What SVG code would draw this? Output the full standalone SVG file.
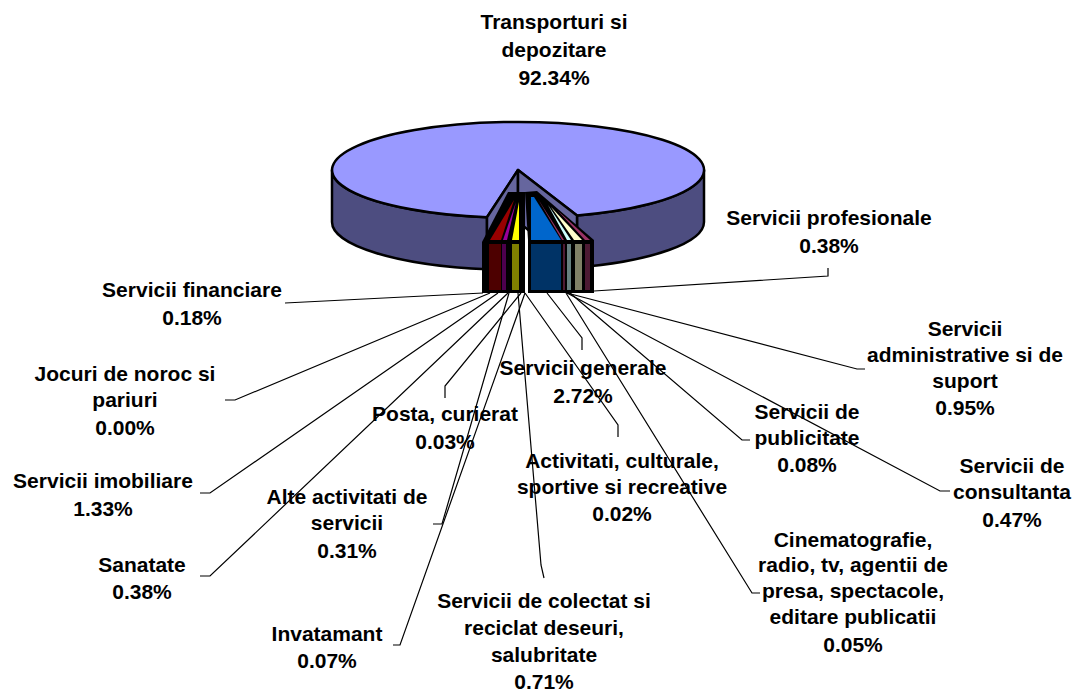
<svg xmlns="http://www.w3.org/2000/svg" width="1072" height="691" viewBox="0 0 1072 691">
<style>
.t{font-family:"Liberation Sans",Arial,sans-serif;font-weight:bold;font-size:21px;fill:#000;text-anchor:middle}
.ld{fill:none;stroke:#000;stroke-width:1.2}
.pe{stroke:#000;stroke-width:2.5;stroke-linejoin:round}
.sl{stroke:none}
</style>
<rect width="1072" height="691" fill="#fff"/>
<g id="pie">
<path class="pe" fill="#4D4D80" d="M332,170 A186,48 0 0,0 487,217.3 L487,269.3 A186,48 0 0,1 332,222 Z"/>
<path class="pe" fill="#4D4D80" d="M577,215.5 A186,48 0 0,0 704,170 L704,222 A186,48 0 0,1 577,267.5 Z"/>
<path class="pe" fill="#9999FF" d="M518,170 L487,217.3 A186,48 0 1,1 577,215.5 Z"/>
<polygon class="pe" fill="#66669E" points="518,170 487,217.3 487,269.3 518,222"/>
<polygon class="pe" fill="#66669E" points="518,170 577,215.5 577,267.5 518,222"/>
</g>
<g id="slices-left">
<polygon fill="#000" points="508,192 525,192 525,293 482,293 482,242"/>
<polygon class="sl" fill="#990000" points="514,200 490,240 501,240"/>
<rect class="sl" fill="#4D0000" x="489" y="244" width="12" height="46"/>
<polygon class="sl" fill="#990099" points="516,202 503,240 507,240"/>
<rect class="sl" fill="#4D004D" x="502" y="244" width="4" height="46"/>
<polygon class="sl" fill="#FFFF00" points="519,202 512,240 519,240"/>
<rect class="sl" fill="#808000" x="512" y="244" width="7" height="46"/>
</g>
<g id="slices-right">
<polygon fill="#000" points="525,192 537,191 594,240 594,293 528,293 528,240"/>
<polygon class="sl" fill="#0066CC" points="531,197 534,197 561,240 531,240"/>
<rect class="sl" fill="#003366" x="531" y="244" width="30" height="46"/>
<polygon class="sl" fill="#993366" points="538,199 562,240 564,240"/>
<rect class="sl" fill="#4D1A33" x="563" y="244" width="2" height="46"/>
<polygon class="sl" fill="#CCFFFF" points="548,205 567,240 571,240"/>
<rect class="sl" fill="#668080" x="567" y="244" width="4" height="46"/>
<polygon class="sl" fill="#FFFFCC" points="551,207 574,240 582,240"/>
<rect class="sl" fill="#808066" x="575" y="244" width="7" height="46"/>
<polygon class="sl" fill="#993366" points="557,210 585,240 590,240"/>
<rect class="sl" fill="#4D1A33" x="585" y="244" width="5" height="46"/>
</g>
<g id="connectors">
<polyline class="ld" points="594,291 828,276 828,268"/>
<polyline class="ld" points="567,293 857,369 865,369"/>
<polyline class="ld" points="567,293 940,491 950,491"/>
<polyline class="ld" points="570,293 742,440 750,440"/>
<polyline class="ld" points="566,293 752,593 760,593"/>
<polyline class="ld" points="525,293 618,425 618,437"/>
<polyline class="ld" points="547,293 582,338 582,350"/>
<polyline class="ld" points="518,293 541,565 544,578"/>
<polyline class="ld" points="483,293 285,303"/>
<polyline class="ld" points="490,293 235,400 225,400"/>
<polyline class="ld" points="498,293 210,493 200,493"/>
<polyline class="ld" points="508,293 210,576 200,576"/>
<polyline class="ld" points="521,293 445,386 445,398"/>
<polyline class="ld" points="509,293 442,524 433,524"/>
<polyline class="ld" points="525,293 400,645 393,645"/>
</g>
<g id="labels">
<text class="t" x="554" y="29">Transporturi si</text>
<text class="t" x="554" y="57">depozitare</text>
<text class="t" x="554" y="85">92.34%</text>
<text class="t" x="829" y="225">Servicii profesionale</text>
<text class="t" x="829" y="253">0.38%</text>
<text class="t" x="192" y="297">Servicii financiare</text>
<text class="t" x="192" y="325">0.18%</text>
<text class="t" x="965" y="336">Servicii</text>
<text class="t" x="965" y="362">administrative si de</text>
<text class="t" x="965" y="388">suport</text>
<text class="t" x="965" y="415">0.95%</text>
<text class="t" x="125" y="381">Jocuri de noroc si</text>
<text class="t" x="125" y="407">pariuri</text>
<text class="t" x="125" y="435">0.00%</text>
<text class="t" x="583" y="375">Servicii generale</text>
<text class="t" x="583" y="403">2.72%</text>
<text class="t" x="445" y="421">Posta, curierat</text>
<text class="t" x="445" y="449">0.03%</text>
<text class="t" x="807" y="419">Servicii de</text>
<text class="t" x="807" y="445">publicitate</text>
<text class="t" x="807" y="472">0.08%</text>
<text class="t" x="622" y="468">Activitati, culturale,</text>
<text class="t" x="622" y="494">sportive si recreative</text>
<text class="t" x="622" y="521">0.02%</text>
<text class="t" x="1012" y="473">Servicii de</text>
<text class="t" x="1012" y="499">consultanta</text>
<text class="t" x="1012" y="527">0.47%</text>
<text class="t" x="103" y="488">Servicii imobiliare</text>
<text class="t" x="103" y="516">1.33%</text>
<text class="t" x="347" y="504">Alte activitati de</text>
<text class="t" x="347" y="530">servicii</text>
<text class="t" x="347" y="558">0.31%</text>
<text class="t" x="853" y="547">Cinematografie,</text>
<text class="t" x="853" y="572">radio, tv, agentii de</text>
<text class="t" x="853" y="598">presa, spectacole,</text>
<text class="t" x="853" y="624">editare publicatii</text>
<text class="t" x="853" y="652">0.05%</text>
<text class="t" x="142" y="572">Sanatate</text>
<text class="t" x="142" y="599">0.38%</text>
<text class="t" x="544" y="608">Servicii de colectat si</text>
<text class="t" x="544" y="635">reciclat deseuri,</text>
<text class="t" x="544" y="662">salubritate</text>
<text class="t" x="544" y="689">0.71%</text>
<text class="t" x="327" y="641">Invatamant</text>
<text class="t" x="327" y="668">0.07%</text>
</g>
</svg>
